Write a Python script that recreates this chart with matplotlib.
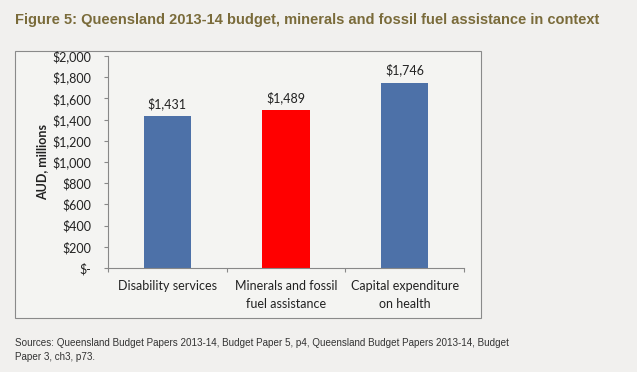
import matplotlib.pyplot as plt
from matplotlib.patches import Rectangle
from matplotlib.ticker import FuncFormatter

categories = ['Disability services', 'Minerals and fossil\nfuel assistance',
              'Capital expenditure\non health']
values = [1431, 1489, 1746]
colors = ['#4d71a8', '#ff0000', '#4d71a8']

bg = '#f1f0ee'
fig = plt.figure(figsize=(6.37, 3.72), dpi=100, facecolor=bg)

# chart frame
fig.patches.append(Rectangle((15/637, 1-318/372), (481-15)/637, (318-51)/372,
                             transform=fig.transFigure, facecolor='#f4f4f2',
                             edgecolor='#8a8a8a', linewidth=0.8, zorder=-1))

ax = fig.add_axes([108/637, 1-268/372, (464-108)/637, (268-56)/372])
ax.set_facecolor('none')
x = range(len(values))
ax.bar(x, values, width=0.4, color=colors)
for i, v in enumerate(values):
    ax.text(i, v + 60, f'${v:,}', ha='center', va='bottom', fontsize=9,
            family='Lato', color='#222222')

ax.set_xlim(-0.5, 2.5)
ax.set_ylim(0, 2000)
ax.set_yticks(range(0, 2001, 200))
ax.yaxis.set_major_formatter(FuncFormatter(lambda v, p: '$-' if v == 0 else f'${v:,.0f}'))
ax.set_xticks([-0.5, 0.5, 1.5, 2.5], minor=False)
ax.set_xticklabels([])
ax.set_xticks(list(x), minor=True)
ax.set_xticklabels(categories, minor=True, fontsize=9, family='Lato', color='#222222',
                   linespacing=1.5)
ax.tick_params(axis='x', which='minor', length=0, pad=9)
ax.tick_params(axis='x', which='major', length=3, color='#888888', direction='out')
ax.tick_params(axis='y', length=3, color='#888888', direction='out', labelsize=9,
               labelcolor='#222222', pad=9)
for lbl in ax.get_yticklabels():
    lbl.set_family('Lato')
for s in ['top', 'right']:
    ax.spines[s].set_visible(False)
for s in ['left', 'bottom']:
    ax.spines[s].set_color('#888888')
ax.set_ylabel('AUD, millions', fontsize=9, family='Lato', fontweight='bold',
              color='#222222', labelpad=3)

fig.text(15/637, 1-20/372, 'Figure 5: Queensland 2013-14 budget, minerals and fossil fuel assistance in context',
         fontsize=10.5, fontweight='bold', color='#7a6b3a', va='center',
         family='Liberation Sans')
fig.text(15/637, 1-343/372, 'Sources: Queensland Budget Papers 2013-14, Budget Paper 5, p4, Queensland Budget Papers 2013-14, Budget',
         fontsize=7.1, color='#333333', va='center', family='Liberation Sans')
fig.text(15/637, 1-357/372, 'Paper 3, ch3, p73.',
         fontsize=7.1, color='#333333', va='center', family='Liberation Sans')

fig.savefig('out.png', dpi=100, facecolor=bg)
